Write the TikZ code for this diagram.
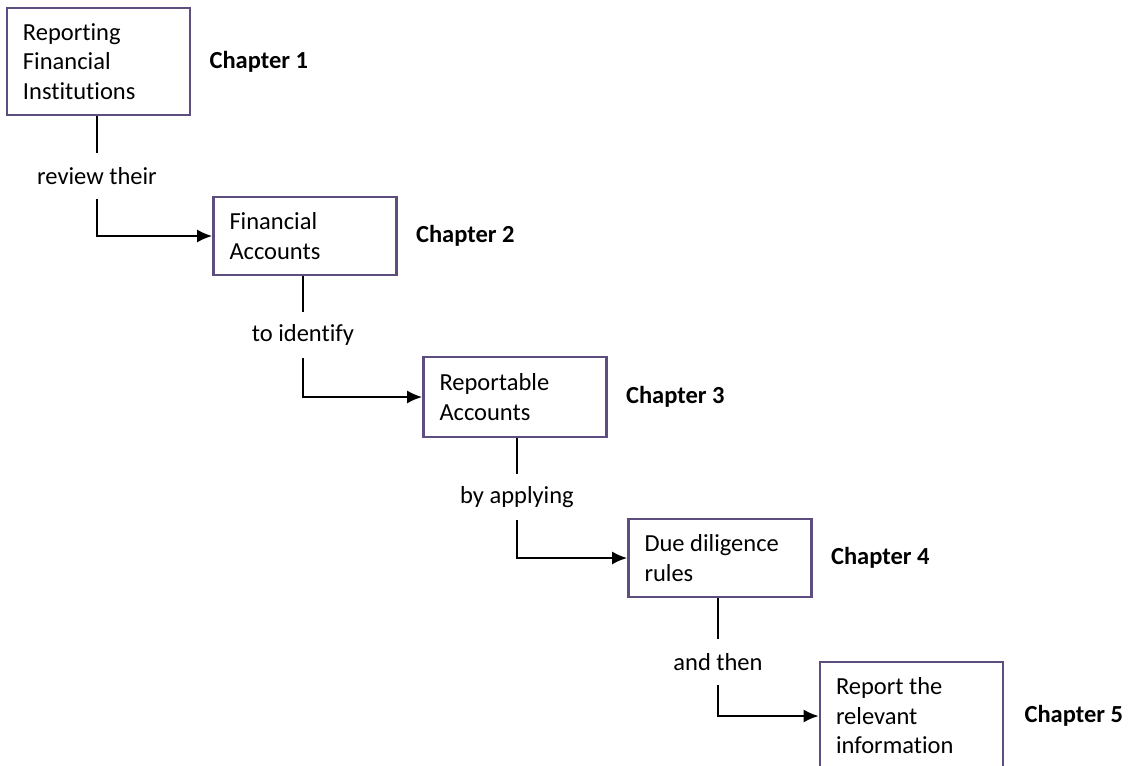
\documentclass[tikz,border=0pt]{standalone}
\usepackage{fontspec}
\setmainfont{Carlito}[Ligatures=NoCommon]
\usetikzlibrary{positioning,arrows.meta}

\definecolor{boxline}{RGB}{94,78,128}

\tikzset{
  stagebox/.style={draw=boxline, line width=2.7pt, inner sep=0pt,
    minimum width=183pt, text width=151pt, align=flush left,
    font=\fontsize{24.5pt}{29.5pt}\selectfont},
  chap/.style={inner sep=0pt, font=\fontsize{24.5pt}{29pt}\selectfont\bfseries},
  steplbl/.style={inner sep=0pt, minimum height=46pt,
    font=\fontsize{24.5pt}{29pt}\selectfont},
  flow/.style={line width=1.9pt, -{Latex[length=15pt,width=13pt]}},
  link/.style={line width=1.9pt}
}

\begin{document}
\begin{tikzpicture}[x=1pt, y=-1pt]
    \useasboundingbox (0,0) rectangle (1136,766);
    % boxes
    \node[stagebox, minimum height=107pt] (b1) at (98.5,61.5) {Reporting\\Financial\\Institutions};
    \node[stagebox, minimum height=78pt] (b2) at (305,236) {Financial\\Accounts};
    \node[stagebox, minimum height=80pt] (b3) at (515,397) {Reportable\\Accounts};
    \node[stagebox, minimum height=78pt] (b4) at (720,558) {Due diligence\\rules};
    \node[stagebox, minimum height=108pt] (b5) at (911.5,716) {Report the\\relevant\\information};
    % chapters
    \node[chap, right=18pt of b1] {Chapter 1};
    \node[chap, right=18pt of b2] {Chapter 2};
    \node[chap, right=18pt of b3] {Chapter 3};
    \node[chap, right=18pt of b4] {Chapter 4};
    \node[chap, right=20pt of b5] {Chapter 5};
    % connector labels
    \node[steplbl] (l1) at (97,176) {review their};
    \node[steplbl] (l2) at (303,335) {to identify};
    \node[steplbl] (l3) at (517,497) {by applying};
    \node[steplbl] (l4) at (718,662) {and then};
    % connectors
    \draw[link] (b1.south -| l1) -- (l1);
    \draw[flow] (l1) |- (b2);
    \draw[link] (b2.south -| l2) -- (l2);
    \draw[flow] (l2) |- (b3);
    \draw[link] (b3.south -| l3) -- (l3);
    \draw[flow] (l3) |- (b4);
    \draw[link] (b4.south -| l4) -- (l4);
    \draw[flow] (l4) |- (b5);
\end{tikzpicture}
\end{document}
